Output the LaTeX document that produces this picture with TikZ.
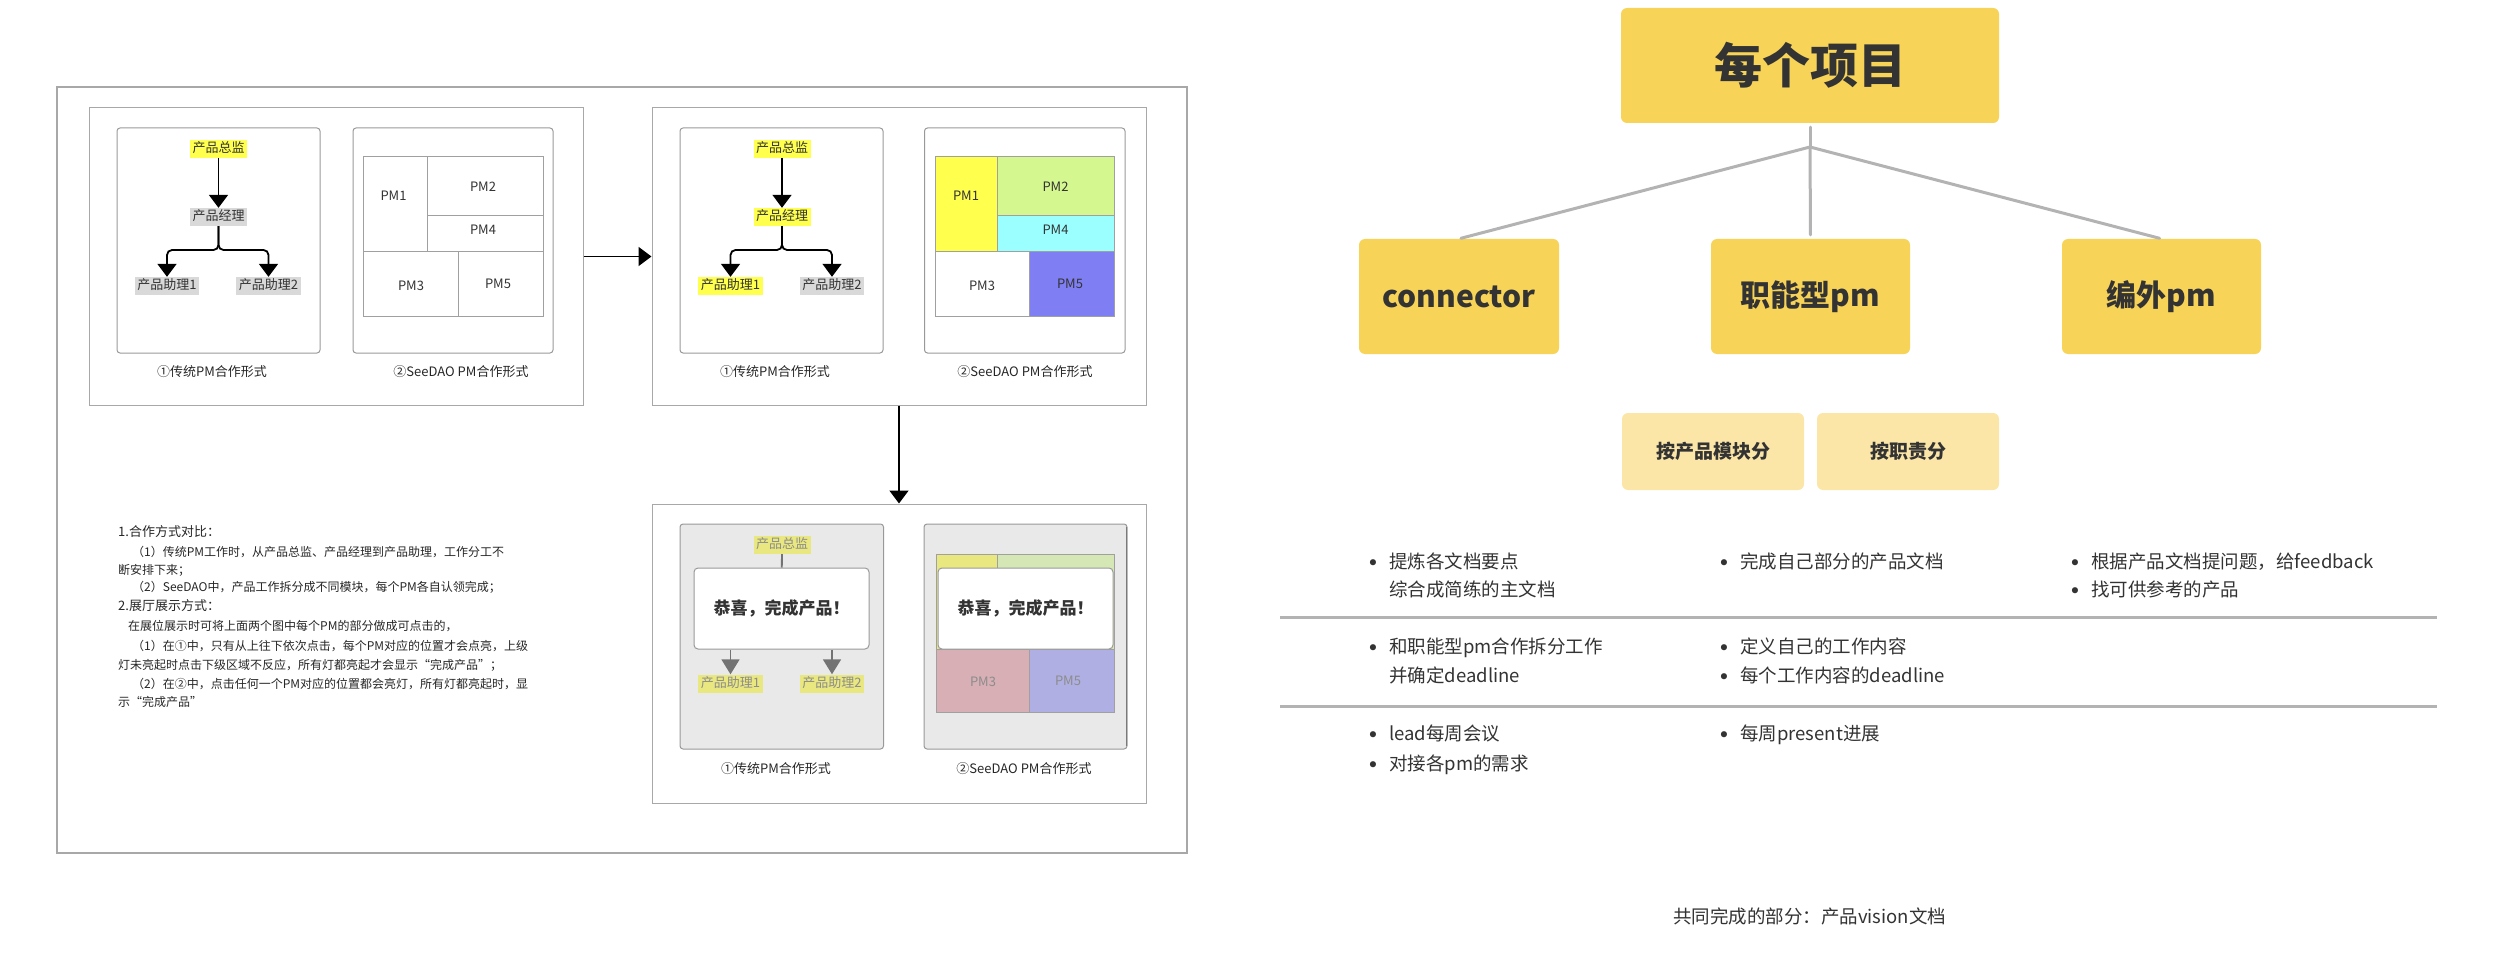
\documentclass[tikz,border=0pt]{standalone}
\usepackage{fontspec}
\setmainfont{Noto Sans CJK SC}
\newfontfamily\bulletfont{DejaVu Sans}
\usepackage{tikz}
\usetikzlibrary{arrows.meta}
\definecolor{framegray}{HTML}{A8A8A8}
\definecolor{panelline}{HTML}{999999}
\definecolor{gridline}{HTML}{A0A0A0}
\definecolor{rolegray}{HTML}{D9D9D9}
\definecolor{hiyellow}{HTML}{FFFF4D}
\definecolor{pmgreen}{HTML}{D4F78F}
\definecolor{pmcyan}{HTML}{9BFFFF}
\definecolor{pmblue}{HTML}{7F7FF3}
\definecolor{panelgray}{HTML}{E9E9E9}
\definecolor{fadeyellow}{HTML}{E9E77F}
\definecolor{fadegreen}{HTML}{D6E7B6}
\definecolor{fadepink}{HTML}{D8AFB5}
\definecolor{fadeblue}{HTML}{AFAFE3}
\definecolor{fadetext}{HTML}{8C8C8C}
\definecolor{arrowgray}{HTML}{737373}
\definecolor{boxyellow}{HTML}{F7D358}
\definecolor{boxlight}{HTML}{FBE6A8}
\definecolor{linkgray}{HTML}{B3B3B3}
\definecolor{textdark}{HTML}{333333}
\tikzset{
    groupbox/.style={draw=framegray,line width=1pt,minimum width=494pt,minimum height=297pt,inner sep=0pt},
    panelbox/.style={draw=panelline,line width=1pt,rounded corners=3pt,minimum width=203pt,minimum height=225pt,inner sep=0pt},
    role/.style={inner xsep=2.5pt,inner ysep=0pt,minimum height=18pt,text=textdark,font=\fontsize{13}{13}\selectfont,text height=.88em,text depth=.12em},
    pmlabel/.style={text=textdark,font=\fontsize{13}{13}\selectfont},
    pmcell/.style={draw=gridline,line width=1pt},
    caption/.style={text=black!85,font=\fontsize{13}{13}\selectfont,text height=.88em,text depth=.12em},
    flow/.style={line width=1.8pt,-{Triangle[width=19pt,length=13pt]}},
    gflow/.style={arrowgray,line width=1.8pt,-{Triangle[width=18pt,length=15pt]}},
    donebox/.style={draw=panelline,fill=white,line width=1pt,rounded corners=4pt,minimum width=175pt,minimum height=81pt,text=textdark,font=\fontsize{17}{17}\selectfont\bfseries},
    note/.style={anchor=west,inner sep=0pt,text=black!85,font=\fontsize{12}{12}\selectfont,text height=.88em,text depth=.12em},
    notehead/.style={note,font=\fontsize{13}{13}\selectfont},
    topbox/.style={fill=boxyellow,rounded corners=6pt,minimum width=378pt,minimum height=115pt,text=textdark,font=\fontsize{48}{48}\selectfont\bfseries},
    rolebox/.style={fill=boxyellow,rounded corners=6pt,minimum width=200pt,minimum height=115pt,text=textdark,font=\fontsize{30}{30}\selectfont\bfseries},
    subbox/.style={fill=boxlight,rounded corners=6pt,minimum width=182pt,minimum height=77pt,text=textdark,font=\fontsize{19}{19}\selectfont\bfseries},
    link/.style={linkgray,line width=3pt,line cap=round},
    rule/.style={linkgray,line width=3pt},
    item/.style={anchor=west,inner sep=0pt,text=textdark,font=\fontsize{18.5}{18.5}\selectfont,text height=.88em,text depth=.12em},
    bullet/.style={inner sep=0pt,text=textdark,font=\fontsize{21}{21}\selectfont\bulletfont}
}
\begin{document}
\begin{tikzpicture}[x=1pt,y=-1pt]
\useasboundingbox (0,0) rectangle (2500,968);

% left frame and the three groups
\draw[framegray,line width=1.5pt] (57,87) rectangle (1187,853);
\node[groupbox] (g1) at (336,256.5) {};
\node[groupbox] (g2) at (899,256.5) {};
\node[groupbox,minimum height=299pt] (g3) at (899,653.5) {};
\draw[flow] (g1.east) -- (g2.west);
\draw[flow] (g2.south) -- (g3.north);

% group 1
\node[panelbox] (p1a) at (218.5,240.5) {};
\node[panelbox,minimum width=200pt] (p1b) at (453,240.5) {};
\node[role,fill=hiyellow] (a1d) at (218.5,149) {产品总监};
\node[role,fill=rolegray] (a1m) at (218.5,217) {产品经理};
\node[role,fill=rolegray] (a1s1) at (167,286) {产品助理1};
\node[role,fill=rolegray] (a1s2) at (268.5,286) {产品助理2};
\coordinate (a1j) at (218.5,250);
\draw[flow] (a1d) -- (a1m);
\draw[flow,rounded corners=5pt] (a1m.south) -- (a1j) -| (a1s1.north);
\draw[flow,rounded corners=5pt] (a1m.south) -- (a1j) -| (a1s2.north);
\filldraw[pmcell,fill=white] (363.5,157) rectangle (427,252);
\filldraw[pmcell,fill=white] (427,157) rectangle (543,216);
\filldraw[pmcell,fill=white] (427,216) rectangle (543,252);
\filldraw[pmcell,fill=white] (363.5,252) rectangle (458,316);
\filldraw[pmcell,fill=white] (458,252) rectangle (543,316);
\node[pmlabel] (b1pm1) at (393.5,196) {PM1};
\node[pmlabel] (b1pm2) at (483,187) {PM2};
\node[pmlabel] (b1pm4) at (483,230) {PM4};
\node[pmlabel] (b1pm3) at (411,286) {PM3};
\node[pmlabel] (b1pm5) at (498,284) {PM5};
\node[caption] (c1a) at (212,373) {①传统PM合作形式};
\node[caption] (c1b) at (461,373) {②SeeDAO PM合作形式};

% group 2
\node[panelbox] (p2a) at (781.5,240.5) {};
\node[panelbox,minimum width=200.5pt] (p2b) at (1024.75,240.5) {};
\node[role,fill=hiyellow] (a2d) at (782,149) {产品总监};
\node[role,fill=hiyellow] (a2m) at (782,217) {产品经理};
\node[role,fill=hiyellow] (a2s1) at (730.5,286) {产品助理1};
\node[role,fill=rolegray] (a2s2) at (832,286) {产品助理2};
\coordinate (a2j) at (782,250);
\draw[flow] (a2d) -- (a2m);
\draw[flow,rounded corners=5pt] (a2m.south) -- (a2j) -| (a2s1.north);
\draw[flow,rounded corners=5pt] (a2m.south) -- (a2j) -| (a2s2.north);
\filldraw[pmcell,fill=hiyellow] (935,157) rectangle (997,252);
\filldraw[pmcell,fill=pmgreen] (997,157) rectangle (1114,216);
\filldraw[pmcell,fill=pmcyan] (997,216) rectangle (1114,252);
\filldraw[pmcell,fill=white] (935,252) rectangle (1029,316);
\filldraw[pmcell,fill=pmblue] (1029,252) rectangle (1114,316);
\node[pmlabel] (b2pm1) at (966,196) {PM1};
\node[pmlabel] (b2pm2) at (1055.5,187) {PM2};
\node[pmlabel] (b2pm4) at (1055.5,230) {PM4};
\node[pmlabel] (b2pm3) at (982,286) {PM3};
\node[pmlabel] (b2pm5) at (1070,284) {PM5};
\node[caption] (c2a) at (775,373) {①传统PM合作形式};
\node[caption] (c2b) at (1025,373) {②SeeDAO PM合作形式};

% group 3
\node[panelbox,fill=panelgray,minimum width=203.5pt] (p3a) at (781.75,636.5) {};
\node[panelbox,fill=panelgray] (p3b) at (1025.5,636.5) {};
\draw[panelline!80!black,line width=1.5pt] (1126.5,527) -- (1126.5,746);
\node[role,fill=fadeyellow,text=fadetext] (a3d) at (782,545) {产品总监};
\node[donebox] (a3box) at (781.5,608.5) {恭喜，完成产品！};
\node[role,fill=fadeyellow,text=fadetext] (a3s1) at (730.5,683.5) {产品助理1};
\node[role,fill=fadeyellow,text=fadetext] (a3s2) at (832,683.5) {产品助理2};
\draw[arrowgray,line width=1.8pt] (a3d) -- (a3box);
\draw[gflow] (a3box.south -| a3s1) -- (a3s1.north);
\draw[gflow] (a3box.south -| a3s2) -- (a3s2.north);
\filldraw[pmcell,fill=fadeyellow] (936,554) rectangle (997,649);
\filldraw[pmcell,fill=fadegreen] (997,554) rectangle (1114,649);
\filldraw[pmcell,fill=fadepink] (936,649) rectangle (1029,712);
\filldraw[pmcell,fill=fadeblue] (1029,649) rectangle (1114,712);
\node[donebox] (b3box) at (1025.5,608.5) {恭喜，完成产品！};
\node[pmlabel,text=fadetext] (b3pm3) at (983,682) {PM3};
\node[pmlabel,text=fadetext] (b3pm5) at (1068,681) {PM5};
\node[caption] (c3a) at (776,770) {①传统PM合作形式};
\node[caption] (c3b) at (1024,770) {②SeeDAO PM合作形式};

% notes
\node[notehead] (n1) at (118,533) {1.合作方式对比：};
\node[note] (n2) at (132,553) {（1）传统PM工作时，从产品总监、产品经理到产品助理，工作分工不};
\node[note] (n3) at (118,571) {断安排下来；};
\node[note] (n4) at (132,588) {（2）SeeDAO中，产品工作拆分成不同模块，每个PM各自认领完成；};
\node[notehead] (n5) at (118,607) {2.展厅展示方式：};
\node[note] (n6) at (128,627) {在展位展示时可将上面两个图中每个PM的部分做成可点击的，};
\node[note] (n7) at (132,647) {（1）在①中，只有从上往下依次点击，每个PM对应的位置才会点亮，上级};
\node[note] (n8) at (118,666) {灯未亮起时点击下级区域不反应，所有灯都亮起才会显示“完成产品”；};
\node[note] (n9) at (132,685) {（2）在②中，点击任何一个PM对应的位置都会亮灯，所有灯都亮起时，显};
\node[note] (n10) at (118,703) {示“完成产品”};

% right: project tree
\node[topbox] (proj) at (1810,65.5) {每个项目};
\node[rolebox] (conn) at (1459,296.5) {connector};
\node[rolebox,minimum width=199pt] (func) at (1810.5,296.5) {职能型pm};
\node[rolebox,minimum width=199pt] (ext) at (2161.5,296.5) {编外pm};
\coordinate (hub) at (1810,147);
\draw[link,shorten <=4pt] (proj) -- (hub);
\draw[link,shorten >=2pt] (hub) -- (conn.north);
\draw[link,shorten >=4pt] (hub) -- (func.north);
\draw[link,shorten >=2pt] (hub) -- (ext.north);
\node[subbox] (bymod) at (1713,451.5) {按产品模块分};
\node[subbox] (byduty) at (1908,451.5) {按职责分};

% right: duty table
\draw[rule] (1280,617) -- (2437,617);
\draw[rule] (1280,706) -- (2437,706);
\node[bullet] (d1) at (1373,565) {•};
\node[item] (t1) at (1389,565) {提炼各文档要点};
\node[item] (t2) at (1389,593) {综合成简练的主文档};
\node[bullet] (d3) at (1724,565) {•};
\node[item] (t3) at (1740,565) {完成自己部分的产品文档};
\node[bullet] (d4) at (2075,565) {•};
\node[item] (t4) at (2091,565) {根据产品文档提问题，给feedback};
\node[bullet] (d5) at (2075,593) {•};
\node[item] (t5) at (2091,593) {找可供参考的产品};
\node[bullet] (d6) at (1373,650) {•};
\node[item] (t6) at (1389,650) {和职能型pm合作拆分工作};
\node[item] (t7) at (1389,679) {并确定deadline};
\node[bullet] (d8) at (1724,650) {•};
\node[item] (t8) at (1740,650) {定义自己的工作内容};
\node[bullet] (d9) at (1724,679) {•};
\node[item] (t9) at (1740,679) {每个工作内容的deadline};
\node[bullet] (d10) at (1373,737) {•};
\node[item] (t10) at (1389,737) {lead每周会议};
\node[bullet] (d11) at (1373,767) {•};
\node[item] (t11) at (1389,767) {对接各pm的需求};
\node[bullet] (d12) at (1724,737) {•};
\node[item] (t12) at (1740,737) {每周present进展};
\node[item,anchor=center] (common) at (1809.5,920) {共同完成的部分：产品vision文档};
\end{tikzpicture}
\end{document}
